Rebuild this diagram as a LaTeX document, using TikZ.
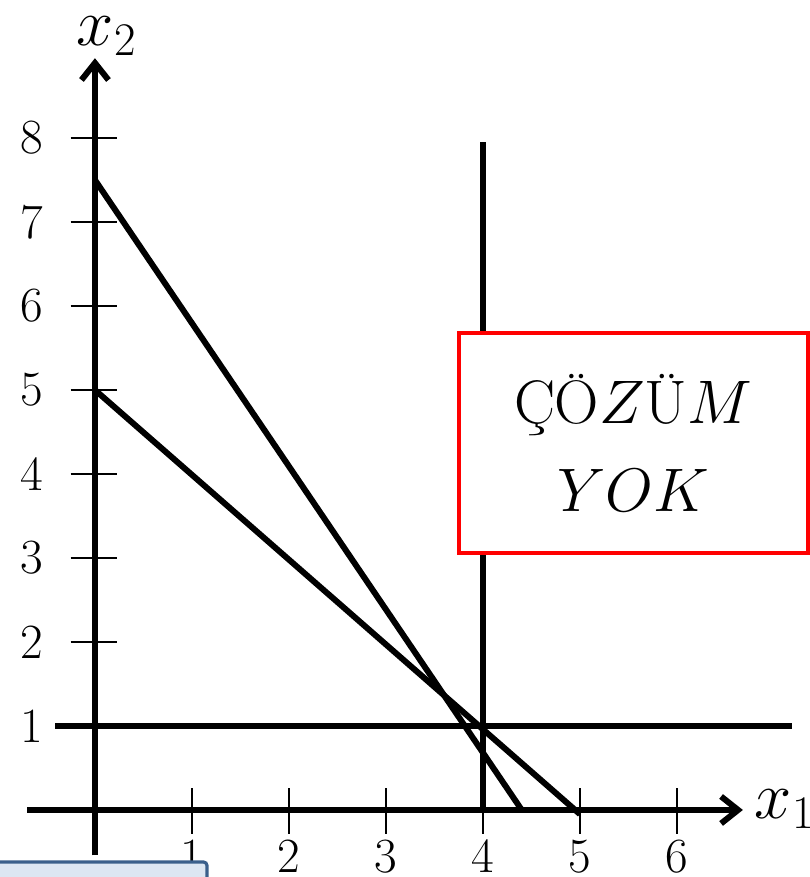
\RequirePackage{fix-cm}
\documentclass[tikz,border=0pt]{standalone}
\usepackage{fontspec}
\usetikzlibrary{arrows.meta}
\tikzset{
  axis/.style={line width=3.4pt, -{Straight Barb[length=3.4mm, width=5.4mm]}},
  cline/.style={line width=3.4pt},
  tick/.style={line width=1.2pt},
  ticklabel/.style={font=\fontsize{28}{32}\selectfont, inner sep=0pt},
  axislabel/.style={font=\fontsize{38}{42}\selectfont, anchor=base west, inner sep=0pt},
}
\begin{document}
\begin{tikzpicture}[x=1.94cm, y=1.68cm]
    \useasboundingbox (-0.979,-0.798) rectangle (7.371,9.643);

    % eksenler
    \draw[axis] (-0.70,0) -- (6.68,0);
    \draw[axis] (0,-0.54) -- (0,8.95);
    \node[axislabel] (xone) at (6.80,-0.10) {$x_1$};
    \node[axislabel] (xtwo) at (-0.19,9.10) {$x_2$};

    % eksen bolmeleri
    \foreach \k in {1,...,6} {
        \draw[tick] (\k,0.26) -- (\k,-0.29);
        \node[ticklabel] (xt\k) at (\k,-0.55) {\k};
    }
    \foreach \k in {1,...,8} {
        \draw[tick] (-0.25,\k) -- (0.23,\k);
        \node[ticklabel] (yt\k) at (-0.65,\k) {\k};
    }

    % kisitlar
    \draw[cline] (-0.41,1) -- (7.19,1);
    \draw[cline] (4,7.95) -- (4,0);
    \draw[cline] (0,7.5) -- (4.4,0);
    \draw[cline] (0,5) -- (5,-0.05);

    % sonuc kutusu
    \node[draw=red, line width=2.3pt, fill=white, minimum width=6.98cm, minimum height=4.4cm,
          align=center, font=\fontsize{35}{52}\selectfont] (sonuc) at (5.552,4.37)
        {Ç\kern-0.02em Ö$Z$Ü$M$\\[-2pt]$YOK$};

    % alt kutu
    \draw[draw={rgb,255:red,58;green,95;blue,139}, fill={rgb,255:red,220;green,230;blue,242},
          line width=1.8pt, rounded corners=2pt] (-1.2,-1.0) rectangle (1.155,-0.619);
\end{tikzpicture}
\end{document}
